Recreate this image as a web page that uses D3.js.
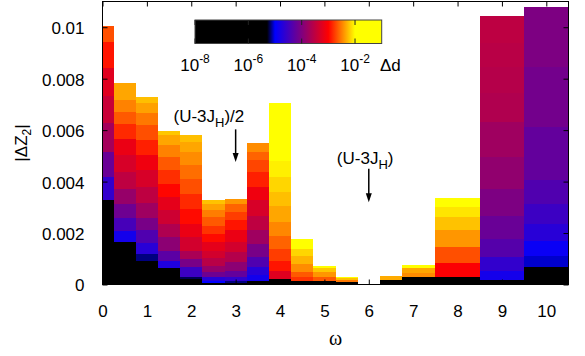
<!DOCTYPE html>
<html>
<head>
<meta charset="utf-8">
<script src="https://cdn.jsdelivr.net/npm/d3@7"></script>
<style>
  body { margin: 0; background: #fff; }
  svg { display: block; }
  text { font-family: "Liberation Sans", Arial, sans-serif; fill: #000; }
</style>
</head>
<body>
<div id="chart"></div>
<script>
// omega bins (left / right edge)
const binLo = [0, 0.25, 0.75, 1.25, 1.75, 2.25, 2.75, 3.25, 3.75, 4.25, 4.75, 5.25, 5.75, 6.25, 6.75, 7.5, 8.5, 9.5];
const binHi = [0.25, 0.75, 1.25, 1.75, 2.25, 2.75, 3.25, 3.75, 4.25, 4.75, 5.25, 5.75, 6.25, 6.75, 7.5, 8.5, 9.5, 10.5];

// |dZ2| of every sample in a bin, tallest first
const segTop = [
    [0.01005, 0.00944, 0.0084, 0.00732, 0.00626, 0.00515, 0.00418, 0.00327],
    [0.00782, 0.00717, 0.00671, 0.00623, 0.00567, 0.00502, 0.00437, 0.00372, 0.00314, 0.00259, 0.00207, 0.00164],
    [0.00729, 0.00704, 0.00665, 0.00619, 0.00561, 0.00502, 0.00444, 0.00379, 0.00316, 0.00259, 0.0021, 0.0016, 0.00119, 0.00093],
    [0.00596, 0.0058, 0.00541, 0.00496, 0.00444, 0.00392, 0.0034, 0.00288, 0.00236, 0.00184, 0.00132, 0.00093, 0.00064],
    [0.0058, 0.00554, 0.00515, 0.00463, 0.00411, 0.00353, 0.00294, 0.00236, 0.00184, 0.00132, 0.00099, 0.00067, 0.00028, 0.0002],
    [0.00329, 0.00314, 0.00288, 0.00262, 0.00229, 0.00197, 0.00164, 0.00132, 0.00103, 0.00073, 0.00047, 0.00028, 0.00012, 0.00005],
    [0.00331, 0.00314, 0.00281, 0.00249, 0.0021, 0.00164, 0.00125, 0.00086, 0.00054, 0.00028, 0.00012, 0.00005],
    [0.0055, 0.00515, 0.00483, 0.00437, 0.00379, 0.00327, 0.00268, 0.0021, 0.00158, 0.00106, 0.00067, 0.00038, 0.00015],
    [0.00706, 0.0048, 0.00418, 0.00359, 0.00307, 0.00242, 0.0019, 0.00138, 0.00093, 0.00054, 0.00021],
    [0.00177, 0.00138, 0.00112, 0.0008, 0.00047, 0.00028, 0.00015],
    [0.00073, 0.00064, 0.00047, 0.00028, 0.00015],
    [0.00031, 0.00027, 0.00019, 0.00008],
    [0.00003],
    [0.00034, 0.00018],
    [0.00077, 0.00065, 0.00045, 0.00028],
    [0.00337, 0.00301, 0.00264, 0.0021, 0.00147, 0.00082, 0.0003],
    [0.01044, 0.00938, 0.00846, 0.00743, 0.00632, 0.00496, 0.00372, 0.00268, 0.00177, 0.00108, 0.00054, 0.00018],
    [0.0108, 0.00846, 0.00612, 0.00405, 0.00314, 0.00236, 0.00171, 0.00112, 0.00067]
];

// log10(delta d) of the same samples
const segLogD = [
    [-2.69, -2.92, -3.24, -3.43, -3.71, -4.18, -4.61, -6],
    [-2.35, -2.49, -2.65, -2.84, -3.16, -3.31, -3.51, -3.82, -4.14, -4.45, -4.84, -6],
    [-2.25, -2.37, -2.53, -2.69, -2.88, -3.12, -3.31, -3.51, -3.75, -4.06, -4.37, -4.69, -5.15, -6],
    [-2.22, -2.35, -2.49, -2.65, -2.82, -2.98, -3.2, -3.39, -3.63, -3.9, -4.29, -4.76, -6],
    [-2.25, -2.35, -2.45, -2.57, -2.69, -2.84, -2.96, -3.16, -3.35, -3.67, -4.06, -4.53, -5.2, -6],
    [-2.24, -2.37, -2.51, -2.65, -2.8, -2.96, -3.2, -3.35, -3.55, -3.82, -4.14, -4.69, -5.0, -6],
    [-2.41, -2.61, -2.76, -2.92, -3.16, -3.35, -3.59, -3.9, -4.22, -4.61, -5.15, -6],
    [-2.45, -2.61, -2.73, -2.88, -3.12, -3.31, -3.51, -3.75, -4.06, -4.37, -4.69, -4.85, -6],
    [-2.0, -2.06, -2.16, -2.25, -2.35, -2.47, -2.61, -2.76, -2.92, -3.24, -6],
    [-2.0, -2.16, -2.29, -2.45, -2.65, -2.8, -6],
    [-2.0, -2.22, -2.41, -2.65, -6],
    [-2.0, -2.25, -2.53, -6],
    [-2.1],
    [-2.33, -6],
    [-2.0, -2.35, -2.45, -6],
    [-2.0, -2.1, -2.24, -2.41, -2.69, -3.02, -6],
    [-3.52, -3.55, -3.58, -3.62, -3.75, -3.86, -4.02, -4.18, -4.33, -4.61, -4.84, -6],
    [-4.02, -4.1, -4.22, -4.37, -4.53, -4.69, -4.92, -5.06, -6]
];

const xTicks = [0, 1, 2, 3, 4, 5, 6, 7, 8, 9, 10];
const yTicks = [0, 0.002, 0.004, 0.006, 0.008, 0.01];
const cbTicks = [-8, -6, -4, -2];
const paletteAt = [-8, -5.3, -5, -3, -2, -1];
const paletteColors = ["#000000", "#000000", "#0000ff", "#ff0000", "#ffff00", "#ffff00"];

// arrow annotations: omega, label position, arrow from/to
const notes = [
    { w: 3, lx: 1.6, ly: 0.00632, y0: 0.00603, y1: 0.00476, pre: "(U-3J", sub: "H", post: ")/2" },
    { w: 6, lx: 5.28, ly: 0.0047, y0: 0.0045, y1: 0.0032, pre: "(U-3J", sub: "H", post: ")" }
];

const width = 585, height = 356;
const svg = d3.select("#chart").append("svg")
    .attr("width", width)
    .attr("height", height);

const x = d3.scaleLinear().domain([0, 10.5]).range([102.5, 568.5]);
const y = d3.scaleLinear().domain([0, 0.011]).range([284.5, 1.5]);
const color = d3.scaleLinear().domain(paletteAt).range(paletteColors).clamp(true);

// bars: every sample drawn from 0, tallest first
const bins = binLo.map((lo, i) => ({
    lo, hi: binHi[i],
    segs: segTop[i].map((t, j) => ({ top: t, logd: segLogD[i][j] }))
}));

const barsG = svg.append("g").attr("shape-rendering", "crispEdges");
barsG.selectAll("g")
    .data(bins)
    .enter()
    .append("g")
    .each(function (b) {
        d3.select(this).selectAll("rect")
            .data(b.segs)
            .enter()
            .append("rect")
            .attr("x", x(b.lo))
            .attr("width", x(b.hi) - x(b.lo))
            .attr("y", d => y(d.top))
            .attr("height", d => y(0) - y(d.top))
            .attr("fill", d => color(d.logd));
    });

// axes, gnuplot style ticks pointing inwards on all four sides
const fs = 17;
svg.append("g")
    .attr("transform", `translate(0,${y(0)})`)
    .call(d3.axisBottom(x).tickValues(xTicks).tickSizeInner(-5).tickSizeOuter(0).tickPadding(20.5).tickFormat(d3.format("d")));
svg.append("g")
    .attr("transform", `translate(0,${y(0.011)})`)
    .call(d3.axisTop(x).tickValues(xTicks).tickSizeInner(-5).tickSizeOuter(0).tickFormat(""));
const yAxisG = svg.append("g")
    .attr("transform", `translate(${x(0)},0)`)
    .call(d3.axisLeft(y).tickValues(yTicks).tickSizeInner(-5).tickSizeOuter(0).tickPadding(18)
        .tickFormat(d => d === 0 ? "0" : String(+d.toFixed(3))));
svg.append("g")
    .attr("transform", `translate(${x(10.5)},0)`)
    .call(d3.axisRight(y).tickValues(yTicks).tickSizeInner(-5).tickSizeOuter(0).tickFormat(""));

svg.selectAll(".domain").remove();
svg.selectAll(".tick line").attr("stroke", "#000").attr("stroke-width", 1);
svg.selectAll(".tick text")
    .attr("font-size", fs)
    .attr("font-family", "Liberation Sans, Arial, sans-serif")
    .attr("fill", "#000");
yAxisG.selectAll(".tick text").attr("dy", "0.38em");

svg.append("rect")
    .attr("x", x(0))
    .attr("y", y(0.011))
    .attr("width", x(10.5) - x(0))
    .attr("height", y(0) - y(0.011))
    .attr("fill", "none")
    .attr("stroke", "#000");

// axis titles
svg.append("text")
    .attr("x", (x(0) + x(10.5)) / 2)
    .attr("y", 345)
    .attr("text-anchor", "middle")
    .attr("font-size", 20)
    .style("font-family", "'Liberation Serif', 'DejaVu Serif', serif")
    .text("ω");

const yt = svg.append("text")
    .attr("transform", `translate(27,${(y(0) + y(0.011)) / 2}) rotate(-90)`)
    .attr("text-anchor", "middle")
    .attr("font-size", fs);
yt.append("tspan").text("|ΔZ");
yt.append("tspan").attr("font-size", 12).attr("dy", 4).text("2");
yt.append("tspan").attr("dy", -4).text("|");

// colour box
const cbX = d3.scaleLinear().domain([-8, -1]).range([195, 381.7]);
const cbY0 = 20, cbY1 = 43.5;
const grad = svg.append("defs").append("linearGradient").attr("id", "cbgrad");
grad.selectAll("stop")
    .data(paletteAt)
    .enter()
    .append("stop")
    .attr("offset", d => (d + 8) / 7)
    .attr("stop-color", (d, i) => paletteColors[i]);

svg.append("rect")
    .attr("x", cbX(-8))
    .attr("y", cbY0)
    .attr("width", cbX(-1) - cbX(-8))
    .attr("height", cbY1 - cbY0)
    .attr("fill", "url(#cbgrad)")
    .attr("stroke", "#444");

const cbTickG = svg.append("g");
cbTicks.forEach(v => {
    cbTickG.append("line").attr("x1", cbX(v)).attr("x2", cbX(v)).attr("y1", cbY0).attr("y2", cbY0 + 5).attr("stroke", "#222");
    cbTickG.append("line").attr("x1", cbX(v)).attr("x2", cbX(v)).attr("y1", cbY1 - 5).attr("y2", cbY1).attr("stroke", "#222");
    const t = cbTickG.append("text")
        .attr("x", cbX(v))
        .attr("y", 70.5)
        .attr("text-anchor", "middle")
        .attr("font-size", fs);
    t.append("tspan").text("10");
    t.append("tspan").attr("dy", -8).attr("font-size", 12).text("-" + Math.abs(v));
});
svg.append("text")
    .attr("x", 380)
    .attr("y", 70.5)
    .attr("font-size", fs)
    .text("Δd");

// annotations
notes.forEach(n => {
    const t = svg.append("text")
        .attr("x", x(n.lx))
        .attr("y", y(n.ly))
        .attr("font-size", fs);
    t.append("tspan").text(n.pre);
    t.append("tspan").attr("dy", 5).attr("font-size", 13).text(n.sub);
    t.append("tspan").attr("dy", -5).text(n.post);

    const ax = x(n.w), ya = y(n.y0), yb = y(n.y1);
    svg.append("line")
        .attr("x1", ax).attr("x2", ax)
        .attr("y1", ya).attr("y2", yb - 4)
        .attr("stroke", "#000")
        .attr("stroke-width", 1.5);
    svg.append("path")
        .attr("d", `M${ax - 3},${yb - 9}L${ax},${yb}L${ax + 3},${yb - 9}Z`)
        .attr("fill", "#000");
});
</script>
</body>
</html>
